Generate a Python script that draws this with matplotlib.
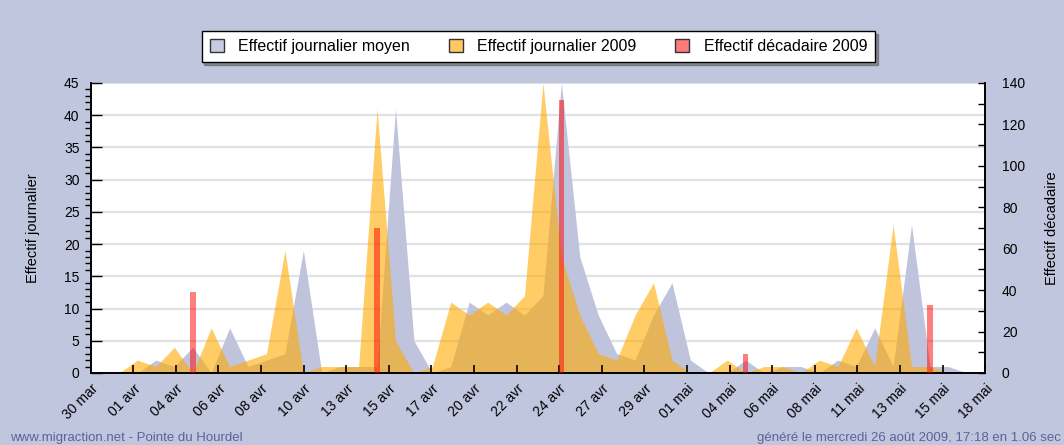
import matplotlib
matplotlib.use("Agg")
import matplotlib.pyplot as plt
import matplotlib.patches as mpatches
import numpy as np

plt.rcParams['font.family'] = ['Liberation Sans', 'DejaVu Sans']

# Daily counts, one value per day from 31 mar to 18 mai
journalier_2009 = [0, 0, 2, 1, 4, 0, 7, 1, 2, 3,
                   19, 0, 1, 1, 1, 41, 5, 0, 1, 11,
                   9, 11, 9, 12, 45, 18, 9, 3, 2, 9,
                   14, 2, 0, 0, 2, 0, 1, 1, 0, 2,
                   1, 7, 1, 23, 1, 1, 0, 0, 0]
journalier_moyen = [0, 0, 0, 2, 1, 4, 0, 7, 1, 2,
                    3, 19, 0, 1, 1, 1, 41, 5, 0, 1,
                    11, 9, 11, 9, 12, 45, 18, 9, 3, 2,
                    9, 14, 2, 0, 0, 2, 0, 1, 1, 0,
                    2, 1, 7, 1, 23, 1, 1, 0, 0]
# ten-day totals, placed on the 5th day of each decade
decade_day = [5, 15, 25, 35, 45]
decadaire_2009 = [39, 70, 132, 9, 33]

date_labels = ["30 mar", "01 avr", "04 avr", "06 avr", "08 avr", "10 avr", "13 avr",
               "15 avr", "17 avr", "20 avr", "22 avr", "24 avr", "27 avr", "29 avr",
               "01 mai", "04 mai", "06 mai", "08 mai", "11 mai", "13 mai", "15 mai", "18 mai"]

bg = '#c1c6df'
days = np.arange(len(journalier_2009))
x0, x1 = -0.54, 48.0
xticks = np.linspace(x0, x1, len(date_labels))

fig = plt.figure(figsize=(10.64, 4.45), dpi=100, facecolor=bg)
ax = fig.add_axes([0.0852, 0.1618, 0.8408, 0.6517])
ax.set_facecolor('white')

ax.fill_between(days, journalier_moyen, color='#bfc3dc', lw=0, zorder=1)
ax.fill_between(days, journalier_2009, color='#ffaa00', alpha=0.6, lw=0, zorder=1.2)

ax.set_xlim(x0, x1)
ax.set_ylim(0, 45)
ax.set_yticks(np.arange(0, 46, 5))
ax.set_yticks(np.arange(0, 46, 1), minor=True)
ax.yaxis.grid(True, color='#e2e2e2', lw=1.6)
ax.set_axisbelow(True)
ax.set_xticks(xticks)
ax.set_xticklabels(date_labels, rotation=45, ha='right', rotation_mode='anchor')
ax.tick_params(axis='both', direction='in', labelsize=10, colors='black')
ax.tick_params(axis='y', which='major', length=8, width=1, pad=8)
ax.tick_params(axis='y', which='minor', length=4, width=1)
ax.tick_params(axis='x', length=0, pad=6)
ax.spines['top'].set_visible(False)
for s in ['left', 'bottom', 'right']:
    ax.spines[s].set_linewidth(1.2)
ax.set_ylabel("Effectif journalier", fontsize=10.5, labelpad=17)

ax2 = ax.twinx()
ax2.bar(decade_day, decadaire_2009, width=0.3, color='red', alpha=0.5, lw=0, zorder=4)
ax2.set_ylim(0, 140)
ax2.set_xlim(x0, x1)
ax2.set_yticks(np.arange(0, 141, 20))
ax2.set_yticks(np.arange(0, 141, 10), minor=True)
ax2.tick_params(axis='y', which='both', direction='in', length=5, width=1, labelsize=10, pad=12)
# bottom ticks drawn from the top axes so they sit above the areas
ax2.xaxis.set_visible(True)
ax2.set_xticks(xticks)
ax2.tick_params(axis='x', bottom=True, top=False, labelbottom=False, labeltop=False,
                direction='in', length=6, width=1.2)
ax2.spines['top'].set_visible(False)
ax2.spines['right'].set_linewidth(1.2)
ax2.spines['bottom'].set_linewidth(1.2)
ax2.spines['left'].set_linewidth(1.2)
ax2.set_ylabel("Effectif décadaire", fontsize=10.5, labelpad=14)

handles = [mpatches.Patch(facecolor='#c8cce2', edgecolor='#333333', label='Effectif journalier moyen'),
           mpatches.Patch(facecolor='#ffc860', edgecolor='#333333', label='Effectif journalier 2009'),
           mpatches.Patch(facecolor='#ff7a7a', edgecolor='#333333', label='Effectif décadaire 2009')]
leg = fig.legend(handles=handles, loc='center', bbox_to_anchor=(0.506, 0.896), ncol=3,
                 fontsize=11.5, frameon=True, fancybox=False, shadow=True,
                 edgecolor='black', handlelength=0.9, handleheight=0.9,
                 columnspacing=2.4, handletextpad=0.9, borderpad=0.5)
leg.get_frame().set_linewidth(1.0)

fig.text(0.009, 0.01, "www.migraction.net - Pointe du Hourdel", fontsize=9.5, color='#5b6397')
fig.text(0.711, 0.01, "généré le mercredi 26 août 2009, 17:18 en 1.06 sec", fontsize=9.5, color='#5b6397')

fig.savefig("out.png", dpi=100, facecolor=bg)
